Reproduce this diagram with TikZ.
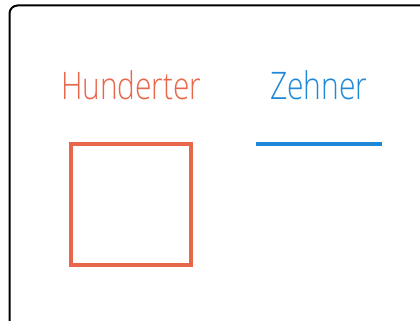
\documentclass[tikz,border=0pt]{standalone}
\usepackage{fontspec}
\setmainfont{Open Sans Light}
\definecolor{hred}{HTML}{E8664A}
\definecolor{zblue}{HTML}{1E88D8}
\begin{document}
\begin{tikzpicture}[x=1pt,y=-1pt,
  lbl/.style={inner sep=0pt,anchor=base west,font=\fontsize{38}{40}\selectfont}]
\useasboundingbox (0,0) rectangle (420,321);
\begin{scope}
\clip (0,0) rectangle (420,321);
\draw[line width=2pt,rounded corners=8pt] (9.5,340) -- (9.5,5.5) -- (440,5.5);
\end{scope}
\node[lbl,text=hred,xscale=0.785] (h) at (61,99) {Hunderter};
\node[lbl,text=zblue,xscale=0.79] (z) at (270,99) {Zehner};
\draw[hred,line width=4pt] (71,144) rectangle (191,265);
\coordinate (l1) at (256,144);
\coordinate (l2) at (382,144);
\draw[zblue,line width=3.5pt] (l1) -- (l2);
\end{tikzpicture}
\end{document}
